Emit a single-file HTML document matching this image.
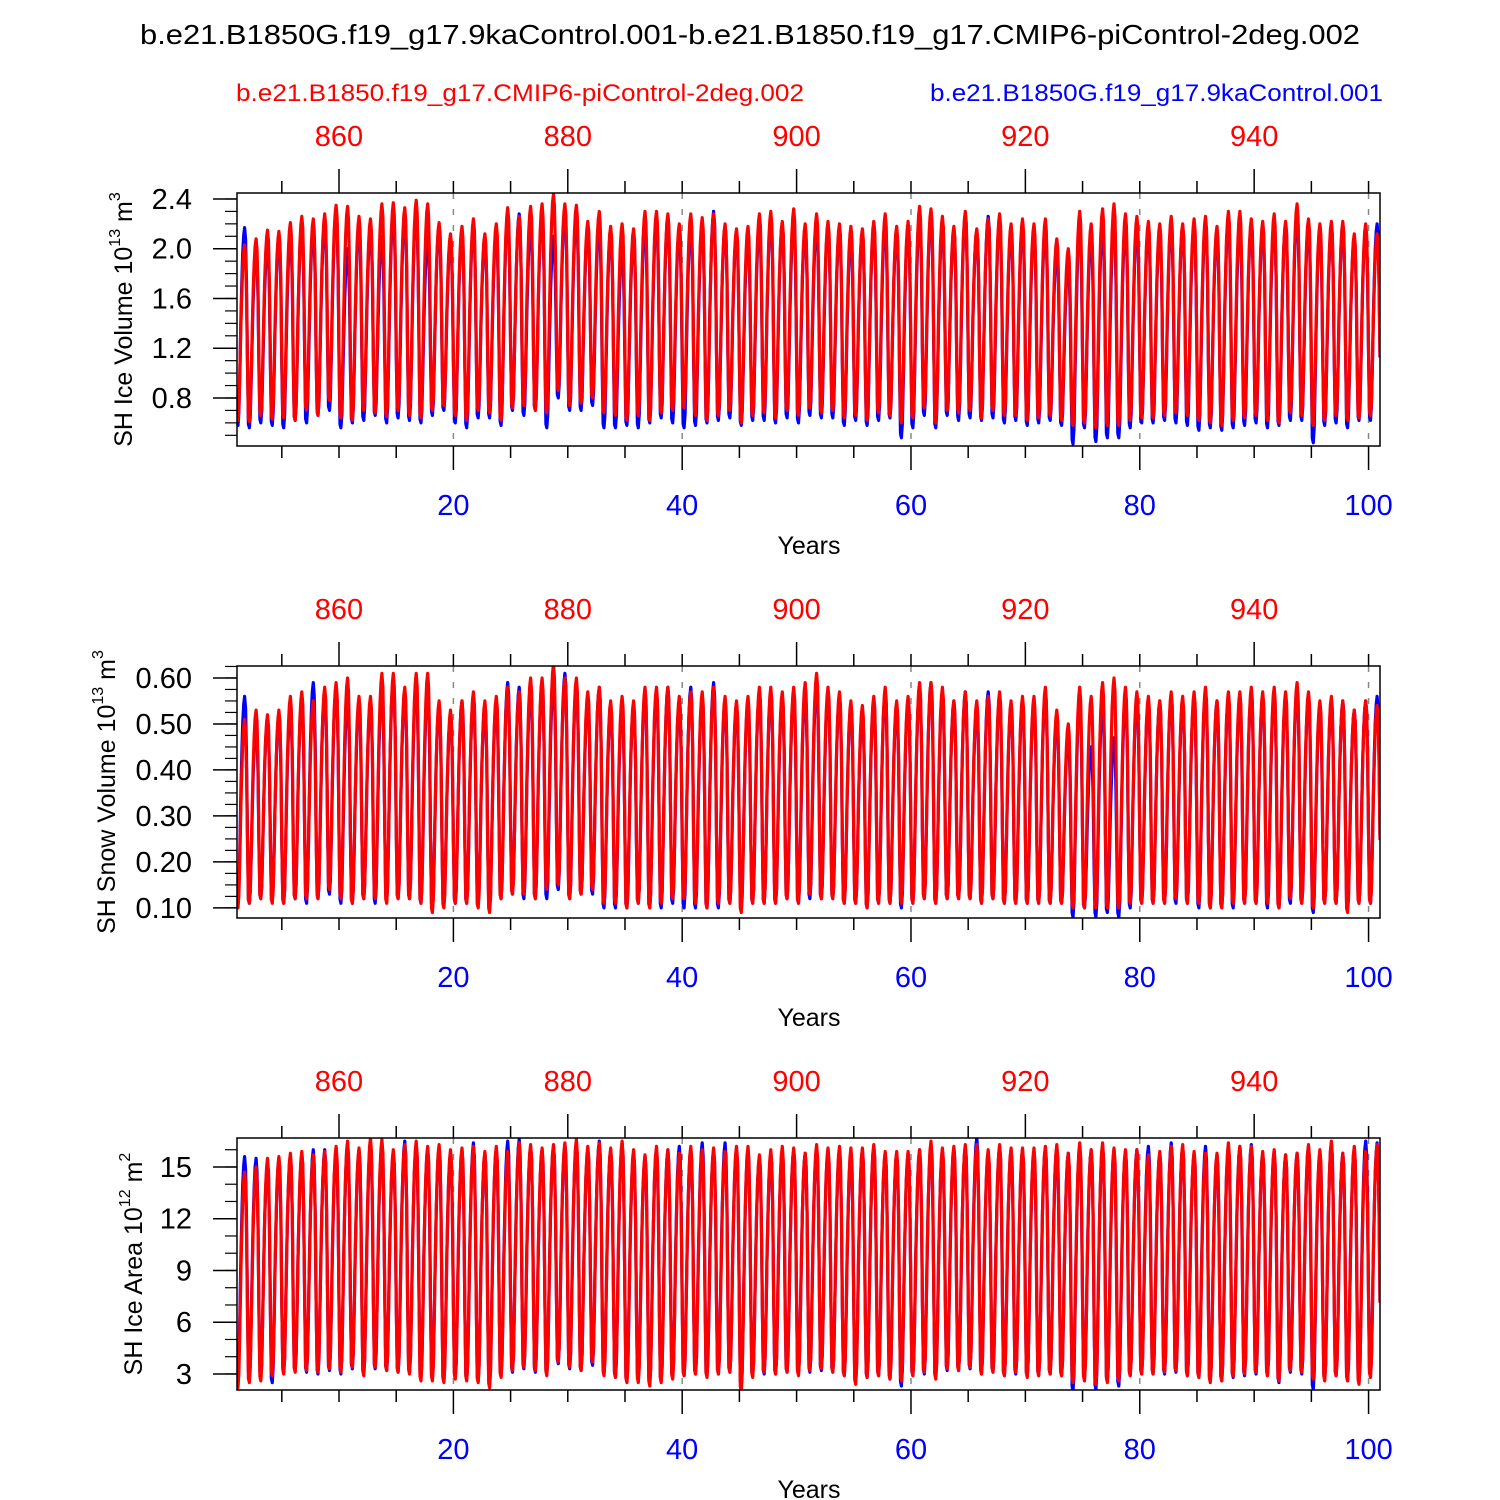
<!DOCTYPE html>
<html><head><meta charset="utf-8">
<style>
html,body{margin:0;padding:0;background:#fff;}
svg{display:block;font-family:"Liberation Sans",Arial,sans-serif;}
</style></head>
<body>
<svg id="chart" width="1500" height="1500" viewBox="0 0 1500 1500" xmlns="http://www.w3.org/2000/svg">
<text x="140" y="44" font-size="28" textLength="1220" lengthAdjust="spacingAndGlyphs" fill="#000">b.e21.B1850G.f19_g17.9kaControl.001-b.e21.B1850.f19_g17.CMIP6-piControl-2deg.002</text>
<text x="236" y="101" font-size="24" textLength="568" lengthAdjust="spacingAndGlyphs" fill="#ff0000">b.e21.B1850.f19_g17.CMIP6-piControl-2deg.002</text>
<text x="930" y="101" font-size="24" textLength="453" lengthAdjust="spacingAndGlyphs" fill="#0000ff">b.e21.B1850G.f19_g17.9kaControl.001</text>
<g id="panels"></g>
</svg>
<script>
// ---- data: annual seasonal peaks and troughs (years 1..100) ----
const years = Array.from({length:100},(_,i)=>i+1);
const ivRedPk=[2.03,2.08,2.15,2.14,2.21,2.26,2.24,2.28,2.35,2.34,2.26,2.24,2.36,2.37,2.33,2.39,2.36,2.21,2.12,2.18,2.24,2.12,2.20,2.33,2.26,2.34,2.36,2.44,2.36,2.35,2.22,2.30,2.18,2.20,2.16,2.30,2.30,2.28,2.20,2.28,2.25,2.28,2.20,2.16,2.18,2.28,2.30,2.22,2.32,2.20,2.28,2.22,2.20,2.18,2.16,2.22,2.28,2.18,2.22,2.34,2.32,2.26,2.18,2.30,2.16,2.24,2.28,2.20,2.24,2.20,2.24,2.08,2.00,2.30,2.20,2.32,2.36,2.28,2.26,2.22,2.20,2.26,2.20,2.24,2.26,2.18,2.30,2.30,2.24,2.22,2.28,2.22,2.36,2.24,2.20,2.22,2.22,2.12,2.20,2.12];
const ivBluePk=[2.17,2.00,2.05,2.10,2.12,2.20,2.18,2.22,2.30,2.00,2.20,2.18,2.10,2.30,2.28,2.32,2.10,2.18,2.08,2.15,2.20,2.10,2.15,2.28,2.28,2.20,2.30,2.10,2.30,2.28,2.18,2.20,2.15,2.00,2.10,2.20,2.24,2.26,2.16,2.20,2.20,2.30,2.18,2.14,2.10,2.20,2.26,2.20,2.24,2.16,2.20,2.18,2.16,2.10,2.14,2.18,2.20,2.15,2.18,2.26,2.28,2.20,2.16,2.28,2.15,2.26,2.24,2.16,2.20,2.16,2.18,2.00,1.90,2.20,2.10,2.20,2.25,2.20,2.20,2.18,2.16,2.20,2.18,2.20,2.20,2.15,2.25,2.20,2.20,2.18,2.22,2.20,2.30,2.20,2.18,2.18,2.20,2.10,2.16,2.20];
const ivRedTr=[0.62,0.61,0.66,0.63,0.64,0.62,0.70,0.66,0.78,0.64,0.62,0.70,0.68,0.65,0.70,0.66,0.64,0.70,0.74,0.66,0.62,0.70,0.68,0.62,0.72,0.74,0.70,0.68,0.86,0.74,0.76,0.80,0.68,0.66,0.62,0.66,0.62,0.68,0.70,0.72,0.66,0.62,0.66,0.70,0.60,0.66,0.68,0.64,0.70,0.66,0.72,0.68,0.70,0.64,0.66,0.62,0.68,0.66,0.60,0.64,0.72,0.60,0.70,0.68,0.70,0.64,0.70,0.66,0.66,0.62,0.64,0.66,0.62,0.58,0.60,0.56,0.58,0.58,0.62,0.64,0.64,0.66,0.68,0.66,0.62,0.60,0.58,0.62,0.64,0.66,0.62,0.60,0.68,0.66,0.58,0.62,0.66,0.62,0.64,0.66];
const ivBlueTr=[0.58,0.56,0.60,0.58,0.56,0.62,0.60,0.66,0.70,0.56,0.60,0.62,0.66,0.60,0.64,0.62,0.60,0.66,0.70,0.60,0.56,0.64,0.64,0.58,0.70,0.66,0.70,0.56,0.80,0.70,0.70,0.74,0.56,0.56,0.58,0.56,0.60,0.64,0.60,0.56,0.58,0.60,0.62,0.64,0.58,0.62,0.62,0.60,0.64,0.60,0.66,0.64,0.64,0.58,0.62,0.58,0.62,0.64,0.48,0.56,0.66,0.56,0.66,0.62,0.64,0.62,0.64,0.60,0.62,0.58,0.60,0.62,0.58,0.43,0.56,0.45,0.48,0.48,0.56,0.60,0.60,0.62,0.60,0.58,0.54,0.56,0.54,0.56,0.58,0.60,0.56,0.58,0.62,0.62,0.44,0.58,0.60,0.56,0.62,0.62];
const snRedPk=[0.51,0.53,0.52,0.53,0.56,0.57,0.55,0.58,0.59,0.60,0.56,0.56,0.61,0.61,0.58,0.61,0.61,0.55,0.53,0.55,0.57,0.55,0.56,0.58,0.57,0.60,0.60,0.63,0.60,0.60,0.57,0.58,0.55,0.56,0.55,0.58,0.58,0.58,0.56,0.57,0.57,0.58,0.56,0.55,0.56,0.58,0.58,0.57,0.58,0.59,0.61,0.58,0.57,0.55,0.54,0.56,0.58,0.55,0.56,0.59,0.59,0.58,0.55,0.57,0.55,0.56,0.57,0.55,0.56,0.56,0.58,0.53,0.50,0.58,0.56,0.59,0.60,0.58,0.57,0.56,0.55,0.57,0.56,0.57,0.58,0.55,0.57,0.57,0.58,0.57,0.58,0.57,0.59,0.57,0.55,0.56,0.55,0.53,0.55,0.54];
const snBluePk=[0.56,0.50,0.51,0.52,0.54,0.56,0.59,0.57,0.58,0.56,0.55,0.55,0.58,0.60,0.57,0.59,0.58,0.54,0.52,0.55,0.56,0.54,0.55,0.59,0.58,0.58,0.59,0.60,0.61,0.59,0.56,0.58,0.54,0.54,0.54,0.57,0.57,0.58,0.55,0.58,0.56,0.59,0.55,0.54,0.55,0.57,0.57,0.56,0.57,0.57,0.59,0.57,0.56,0.54,0.53,0.55,0.57,0.54,0.55,0.58,0.59,0.57,0.55,0.57,0.54,0.57,0.56,0.54,0.55,0.55,0.57,0.52,0.48,0.56,0.45,0.55,0.47,0.56,0.56,0.55,0.55,0.56,0.55,0.56,0.57,0.55,0.56,0.56,0.57,0.56,0.57,0.56,0.58,0.56,0.54,0.55,0.55,0.53,0.55,0.56];
const snRedTr=[0.10,0.11,0.12,0.11,0.11,0.12,0.12,0.12,0.14,0.12,0.11,0.12,0.12,0.11,0.12,0.12,0.11,0.09,0.10,0.11,0.11,0.10,0.09,0.12,0.13,0.13,0.12,0.14,0.15,0.12,0.13,0.14,0.11,0.11,0.10,0.11,0.10,0.11,0.12,0.12,0.11,0.10,0.11,0.11,0.09,0.11,0.11,0.11,0.12,0.11,0.13,0.12,0.12,0.11,0.11,0.10,0.11,0.11,0.11,0.11,0.12,0.11,0.12,0.12,0.12,0.11,0.12,0.11,0.11,0.11,0.11,0.11,0.11,0.10,0.10,0.10,0.10,0.10,0.11,0.11,0.11,0.11,0.12,0.11,0.11,0.10,0.10,0.11,0.11,0.11,0.11,0.10,0.12,0.11,0.10,0.11,0.11,0.09,0.11,0.11];
const snBlueTr=[0.11,0.11,0.12,0.12,0.11,0.12,0.11,0.12,0.13,0.11,0.11,0.12,0.11,0.12,0.12,0.12,0.11,0.10,0.11,0.11,0.11,0.11,0.10,0.12,0.13,0.12,0.12,0.12,0.14,0.12,0.13,0.13,0.10,0.10,0.10,0.11,0.10,0.10,0.11,0.10,0.10,0.10,0.10,0.11,0.10,0.11,0.11,0.11,0.12,0.11,0.12,0.12,0.12,0.11,0.11,0.10,0.11,0.11,0.10,0.11,0.12,0.11,0.12,0.12,0.12,0.11,0.12,0.11,0.11,0.11,0.11,0.11,0.11,0.08,0.10,0.08,0.09,0.08,0.10,0.11,0.11,0.11,0.11,0.11,0.10,0.10,0.10,0.10,0.11,0.11,0.10,0.10,0.11,0.11,0.09,0.11,0.11,0.10,0.11,0.11];
const arRedPk=[14.7,15.0,15.5,15.6,15.8,15.9,15.7,15.9,16.2,16.5,16.1,16.7,16.6,16.0,16.3,16.5,16.2,16.3,16.0,16.1,16.2,15.9,16.2,15.9,16.4,16.3,16.1,16.3,16.4,16.6,16.2,16.4,16.1,16.5,16.0,15.7,16.2,16.0,15.8,16.2,16.0,16.1,15.9,16.2,16.2,15.7,16.0,16.2,16.1,15.8,16.3,16.1,16.2,16.1,16.1,16.3,15.9,15.9,15.9,16.0,16.5,16.1,16.2,16.3,16.3,16.0,16.3,16.1,16.1,16.1,16.2,16.3,15.8,16.4,16.0,16.4,16.1,16.0,16.0,15.7,15.9,16.2,16.3,15.9,15.8,15.8,16.4,16.2,16.2,15.9,16.0,15.7,15.8,16.3,16.0,16.5,15.8,16.2,15.9,16.3];
const arBluePk=[15.6,15.5,15.2,15.5,15.6,15.7,16.0,16.0,15.9,16.3,16.0,16.4,16.3,15.8,16.5,16.3,16.0,16.1,15.8,16.0,16.4,15.8,16.0,16.5,16.6,16.2,16.0,16.2,16.3,16.4,16.0,16.5,16.0,16.4,15.8,15.6,16.0,16.0,16.2,16.1,16.4,16.0,16.4,16.1,16.0,15.6,15.8,16.0,16.0,15.8,16.1,16.0,16.0,15.9,16.0,16.2,15.8,15.8,15.8,16.0,16.3,16.0,16.1,16.2,16.7,15.8,16.2,16.0,16.0,15.9,16.1,16.2,15.8,16.2,16.0,16.3,16.0,15.9,16.0,16.2,15.8,16.4,16.2,15.8,16.2,15.7,16.2,16.2,16.3,15.8,15.9,15.7,15.8,16.2,15.9,16.4,15.8,16.1,16.5,16.4];
const arRedTr=[2.2,2.5,2.6,2.9,3.0,3.1,3.2,3.1,3.3,3.1,3.4,2.9,3.4,3.2,3.1,3.0,2.6,2.6,2.5,2.7,2.6,2.5,2.2,2.8,3.2,3.4,3.2,2.9,3.7,3.4,3.2,3.7,2.9,2.8,2.5,2.5,2.3,2.5,2.7,2.9,3.0,2.8,3.0,3.1,2.0,2.8,3.1,3.0,3.1,2.9,3.2,3.3,3.1,2.9,2.4,2.8,2.9,2.7,2.6,2.9,3.1,2.7,3.3,3.2,3.4,3.0,3.1,2.9,3.1,2.8,2.9,3.0,2.9,2.5,2.6,2.4,2.5,2.6,2.9,3.0,3.0,3.1,3.2,2.9,2.8,2.5,2.6,2.9,3.0,3.1,2.9,2.6,3.2,3.1,2.7,2.6,2.9,2.6,2.4,2.8];
const arBlueTr=[3.0,2.9,2.9,2.5,3.1,3.2,3.1,3.0,3.2,3.0,3.3,3.0,3.3,3.2,3.1,3.1,2.8,2.7,2.6,2.8,2.7,2.6,2.4,2.9,3.1,3.3,3.1,3.0,3.6,3.3,3.2,3.5,3.0,2.8,2.6,2.7,2.5,2.6,2.8,2.9,3.0,2.9,3.0,3.1,2.3,2.9,3.0,3.0,3.1,3.0,3.1,3.2,3.1,2.9,2.6,2.8,2.9,2.7,2.3,2.9,3.0,2.8,3.2,3.2,3.3,3.0,3.1,2.9,3.0,2.9,2.9,3.0,2.9,2.0,2.7,2.1,2.6,2.3,2.9,3.0,3.0,3.0,3.1,2.9,2.8,2.6,2.6,2.8,2.9,3.0,2.9,2.5,3.1,3.0,2.1,2.7,2.9,2.6,2.5,2.9];

// fixed seasonal shape (fraction between trough and peak, by month)
const season=[0.02,0,0.07,0.28,0.52,0.72,0.87,0.96,1,0.94,0.72,0.32];

const panels=[
 {name:'ice-volume',top:193,bot:446,ymin:0.414,ymax:2.448,ticks:[0.8,1.2,1.6,2.0,2.4],fmt:v=>v.toFixed(1),minor:0.1,
  red:[ivRedPk,ivRedTr],blue:[ivBluePk,ivBlueTr],title:['SH Ice Volume 10','13',' m','3']},
 {name:'snow-volume',top:666,bot:918,ymin:0.078,ymax:0.626,ticks:[0.1,0.2,0.3,0.4,0.5,0.6],fmt:v=>v.toFixed(2),minor:0.025,
  red:[snRedPk,snRedTr],blue:[snBluePk,snBlueTr],title:['SH Snow Volume 10','13',' m','3']},
 {name:'ice-area',top:1138,bot:1390,ymin:2.07,ymax:16.68,ticks:[3,6,9,12,15],fmt:v=>String(v),minor:1,
  red:[arRedPk,arRedTr],blue:[arBluePk,arBlueTr],title:['SH Ice Area 10','12',' m','2']}
];
const X0=237,X1=1380,XMIN=1.083,XMAX=101.0;
const xs=v=>X0+(v-XMIN)/(XMAX-XMIN)*(X1-X0);
const NS='http://www.w3.org/2000/svg';
const root=document.getElementById('panels');
function mk(tag,attrs,parent){const e=document.createElementNS(NS,tag);for(const k in attrs)e.setAttribute(k,attrs[k]);(parent||root).appendChild(e);return e;}

function series(pk,tr){
  const pts=[];
  years.forEach((y,i)=>{
    const p=pk[i],t=tr[i],tn=tr[i+1]!==undefined?tr[i+1]:tr[i];
    for(let m=0;m<12;m++){
      const base=m>8?tn:t;
      pts.push([y+(m+1)/12,base+(p-base)*season[m]]);
    }
  });
  return pts;
}

panels.forEach(P=>{
  const g=mk('g',{});
  
  
  const ys=v=>P.bot-(v-P.ymin)/(P.ymax-P.ymin)*(P.bot-P.top);
  const cp=mk('clipPath',{id:'c-'+P.name},g);
  mk('rect',{x:X0,y:P.top,width:X1-X0,height:P.bot-P.top},cp);
  [20,40,60,80,100].forEach(v=>{
    const l=mk('line',{x1:xs(v),x2:xs(v),y1:P.top,y2:P.bot,stroke:'#888','stroke-width':1.5,'stroke-dasharray':'6,10'},g);
    
    
  });
  [['blue','#0000ff',P.blue],['red','#ff0000',P.red]].forEach(([nm,col,arr])=>{
    const pts=series(arr[0],arr[1]);
    const pl=mk('polyline',{points:pts.map(p=>xs(p[0]).toFixed(1)+','+ys(p[1]).toFixed(1)).join(' '),fill:'none',stroke:col,'stroke-width':3.2,'stroke-linejoin':'round','clip-path':'url(#c-'+P.name+')'},g);
    
    
  });
  const fr=mk('rect',{x:X0,y:P.top,width:X1-X0,height:P.bot-P.top,fill:'none',stroke:'#000','stroke-width':1.5},g);
  
  
  for(let v=5;v<=100;v+=5){
    const major=v%20===0;
    mk('line',{x1:xs(v),x2:xs(v),y1:P.bot,y2:P.bot+(major?24:12),stroke:'#000','stroke-width':1.5},g);
    const tv=v+850, tmaj=tv%20===0;
    mk('line',{x1:xs(v),x2:xs(v),y1:P.top,y2:P.top-(tmaj?24:12),stroke:'#000','stroke-width':1.5},g);
    if(major){const t=mk('text',{x:xs(v),y:P.bot+69,'font-size':29,'text-anchor':'middle',fill:'#0000ff'},g);t.textContent=v;
      }
    if(tmaj){const t=mk('text',{x:xs(v),y:P.top-47,'font-size':29,'text-anchor':'middle',fill:'#ff0000'},g);t.textContent=tv;
      }
  }
  const nMin=Math.ceil(P.ymin/P.minor-1e-6),nMax=Math.floor(P.ymax/P.minor+1e-6);
  for(let k=nMin;k<=nMax;k++){const v=k*P.minor;mk('line',{x1:X0-12,x2:X0,y1:ys(v),y2:ys(v),stroke:'#000','stroke-width':1.2},g);}
  P.ticks.forEach(v=>{
    mk('line',{x1:X0-24,x2:X0,y1:ys(v),y2:ys(v),stroke:'#000','stroke-width':1.5},g);
    const t=mk('text',{x:X0-45,y:ys(v)+10,'font-size':29,'text-anchor':'end',fill:'#000'},g);t.textContent=P.fmt(v);
    
  });
  const xt=mk('text',{x:809,y:P.bot+108,'font-size':25,'text-anchor':'middle',fill:'#000'},g);xt.textContent='Years';
  
  const cy=(P.top+P.bot)/2;
  const yt=mk('text',{x:0,y:0,'font-size':25,'text-anchor':'middle',fill:'#000',transform:`translate(${P.name==='snow-volume'?115:(P.name==='ice-area'?142:132)},${cy}) rotate(-90)`},g);
  
  const a=document.createElementNS(NS,'tspan');a.textContent=P.title[0];yt.appendChild(a);
  const b=document.createElementNS(NS,'tspan');b.setAttribute('font-size','16');b.setAttribute('dy','-12');b.textContent=P.title[1];yt.appendChild(b);
  const c=document.createElementNS(NS,'tspan');c.setAttribute('dy','12');c.textContent=P.title[2];yt.appendChild(c);
  const d=document.createElementNS(NS,'tspan');d.setAttribute('font-size','16');d.setAttribute('dy','-12');d.textContent=P.title[3];yt.appendChild(d);
});
</script>
</body></html>
